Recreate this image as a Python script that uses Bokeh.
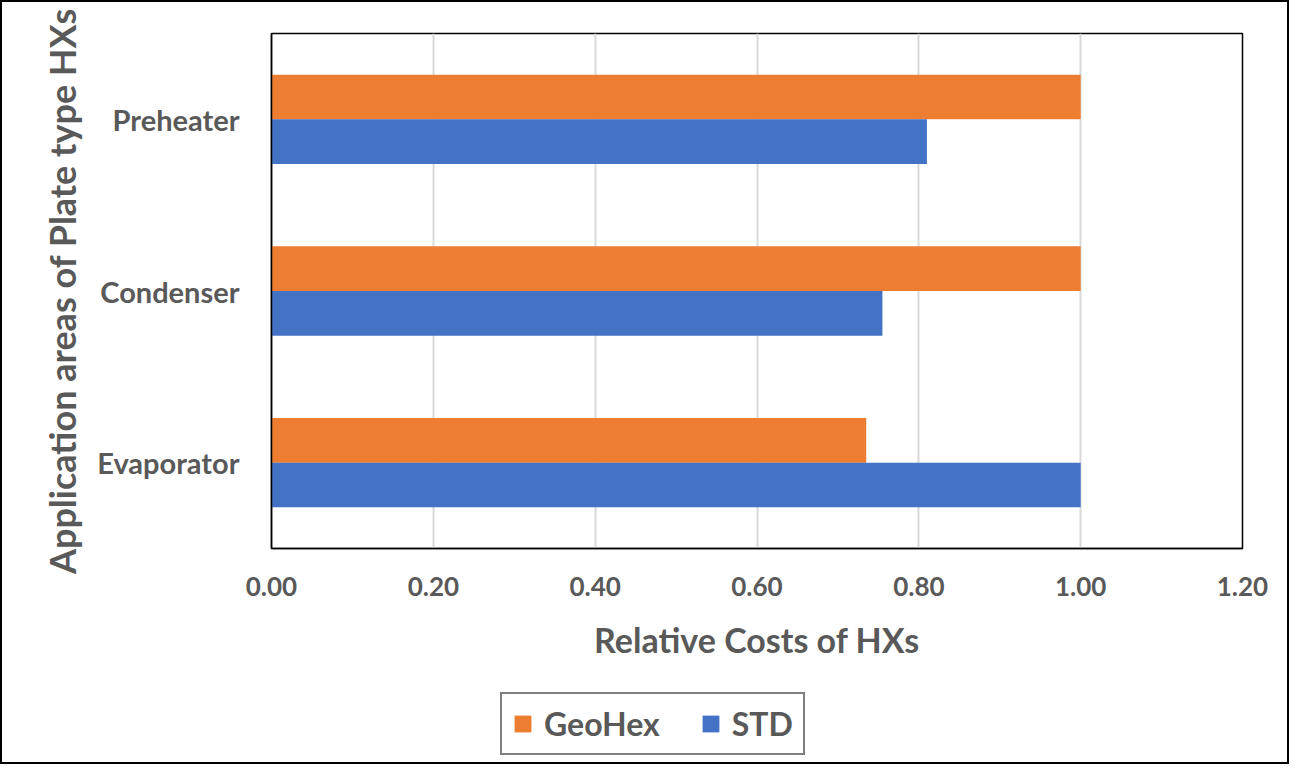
from bokeh.plotting import figure
from bokeh.layouts import column
from bokeh.models import FactorRange, Range1d, Legend, LegendItem, CustomJSTickFormatter
from bokeh.transform import dodge
from bokeh.models import ColumnDataSource
from bokeh.embed import file_html
from bokeh.resources import INLINE

categories = ["Evaporator", "Condenser", "Preheater"]
geohex = [0.735, 1.00, 1.00]
std = [1.00, 0.755, 0.81]
x_ticks = [0.0, 0.2, 0.4, 0.6, 0.8, 1.0, 1.2]
series_names = ["GeoHex", "STD"]
series_colors = ["#ED7D31", "#4472C4"]

src = ColumnDataSource(dict(cat=categories, geohex=geohex, std=std))

FONT = "Lato"
TXT = "#595959"

p = figure(frame_width=971, frame_height=515, y_range=FactorRange(*categories), x_range=Range1d(0, 1.2),
           output_backend="svg", toolbar_location=None,
           min_border_left=269, min_border_right=45, min_border_top=31, min_border_bottom=10)

p.hbar(y=dodge("cat", 0.13, range=p.y_range), right="geohex", left=0, height=0.26,
       source=src, fill_color=series_colors[0], line_color=None)
p.hbar(y=dodge("cat", -0.13, range=p.y_range), right="std", left=0, height=0.26,
       source=src, fill_color=series_colors[1], line_color=None)

p.xaxis.ticker = x_ticks
p.xaxis.formatter = CustomJSTickFormatter(code="return tick.toFixed(2);")
p.xaxis.major_tick_line_color = None
p.xaxis.minor_tick_line_color = None
p.xaxis.axis_line_color = "#000000"
p.xaxis.axis_line_width = 1.5
p.xaxis.major_label_text_font = FONT
p.xaxis.major_label_text_font_style = "bold"
p.xaxis.major_label_text_font_size = "26px"
p.xaxis.major_label_text_color = TXT
p.xaxis.major_label_standoff = 22
p.xaxis.axis_label = "Relative Costs of HXs"
p.xaxis.axis_label_text_font = FONT
p.xaxis.axis_label_text_font_style = "bold"
p.xaxis.axis_label_text_font_size = "34px"
p.xaxis.axis_label_text_color = TXT
p.xaxis.axis_label_standoff = 20

p.yaxis.major_tick_line_color = None
p.yaxis.minor_tick_line_color = None
p.yaxis.axis_line_color = "#000000"
p.yaxis.axis_line_width = 1.5
p.yaxis.major_label_text_font = FONT
p.yaxis.major_label_text_font_style = "bold"
p.yaxis.major_label_text_font_size = "29px"
p.yaxis.major_label_text_color = TXT
p.yaxis.major_label_standoff = 26
p.yaxis.axis_label = "Application areas of Plate type HXs"
p.yaxis.axis_label_text_font = FONT
p.yaxis.axis_label_text_font_style = "bold"
p.yaxis.axis_label_text_font_size = "36px"
p.yaxis.axis_label_text_color = TXT
p.yaxis.axis_label_standoff = 10

p.xgrid.grid_line_color = "#D9D9D9"
p.xgrid.grid_line_width = 2
p.ygrid.grid_line_color = None

p.outline_line_color = "#000000"
p.outline_line_width = 1.5

# legend strip below the chart (its bars lie outside its own visible range; only legend swatches show)
lg = figure(width=1285, height=100, output_backend="svg", toolbar_location=None,
            x_axis_location=None, y_axis_location=None, min_border=0,
            x_range=Range1d(10, 11), y_range=Range1d(10, 11))
lg.grid.visible = False
lg.outline_line_color = None
items = []
for name, col, vals in zip(series_names, series_colors, [geohex, std]):
    r = lg.hbar(y=vals, right=vals, left=0, height=0.5, fill_color=col, line_color=None)
    items.append(LegendItem(label=name, renderers=[r]))

legend = Legend(items=items, orientation="horizontal", location=(229, 7),
                label_text_font=FONT, label_text_font_style="bold", label_text_font_size="32px",
                label_text_color=TXT, border_line_color="#000000", border_line_width=2,
                glyph_width=21, glyph_height=21, spacing=40, padding=10, margin=0,
                label_standoff=11)
lg.add_layout(legend, "center")

layout = column(p, lg, spacing=0, styles={"border": "2px solid #000000"})

open("out.html", "w").write(file_html(layout, INLINE))
